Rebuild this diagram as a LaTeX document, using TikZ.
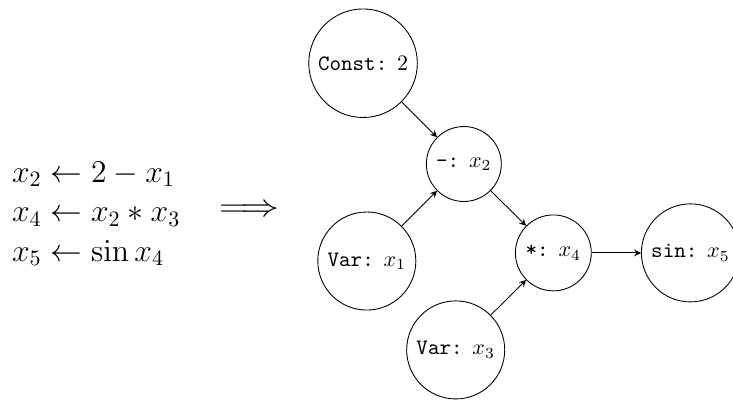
\documentclass[tikz,border=0pt]{standalone}
\usepackage{amsmath}
\usepackage{tikz}

\begin{document}
\begin{tikzpicture}[opnode/.style={draw, circle}, edge/.style={-stealth}]
\useasboundingbox (0,0) rectangle (11.71,-6.375);

\node[anchor=west, align=left, font=\Large, inner sep=1pt] (eqs) at (0.15,-3.415) {$x_2 \leftarrow 2 - x_1$\\ $x_4 \leftarrow x_2 * x_3$\\ $x_5 \leftarrow \sin x_4$};
\node[font=\Large, inner sep=1pt, xscale=1.2] (impl) at (3.98,-3.36) {$\Longrightarrow$};

\node[opnode] (const) at (5.80,-1.01) {\texttt{Const:} $2$};
\node[opnode] (minus) at (7.41,-2.62) {\texttt{-:} $x_2$};
\node[opnode] (varA) at (5.86,-4.17) {\texttt{Var:} $x_1$};
\node[opnode] (mult) at (8.84,-4.04) {\texttt{*:} $x_4$};
\node[opnode] (varB) at (7.28,-5.59) {\texttt{Var:} $x_3$};
\node[opnode] (sine) at (11.03,-4.04) {\texttt{sin:} $x_5$};

\draw[edge] (const) -- (minus);
\draw[edge] (varA) -- (minus);
\draw[edge] (minus) -- (mult);
\draw[edge] (varB) -- (mult);
\draw[edge] (mult) -- (sine);
\end{tikzpicture}
\end{document}
